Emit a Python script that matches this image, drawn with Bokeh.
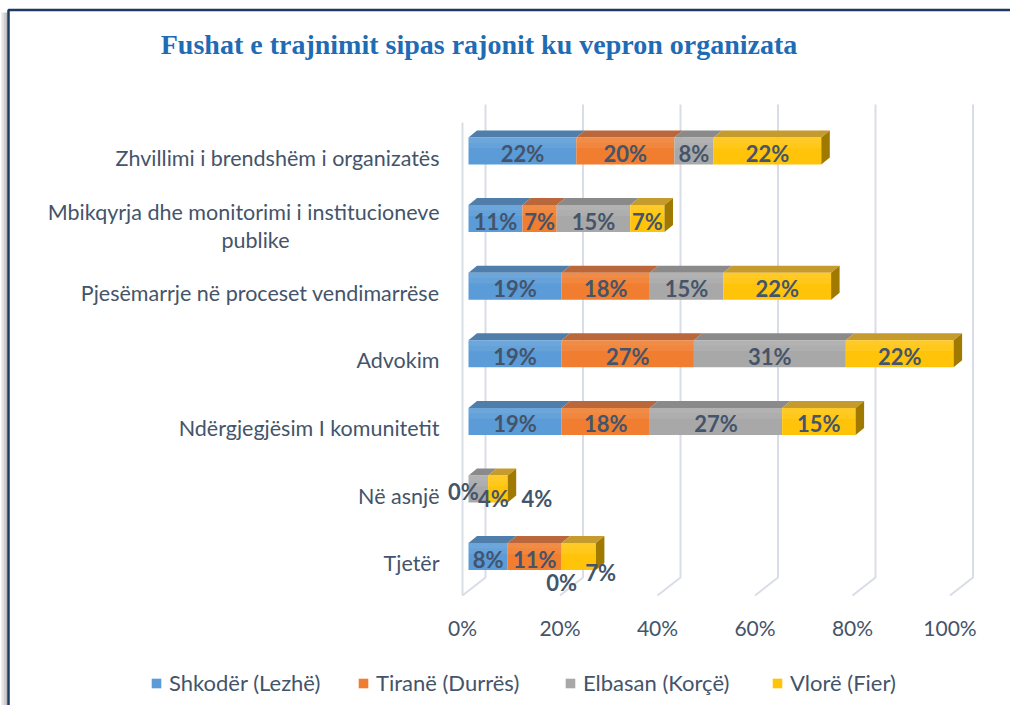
from bokeh.plotting import figure
from bokeh.models import Range1d, ColumnDataSource, Legend, LegendItem
from bokeh.core.properties import value
from bokeh.embed import file_html
from bokeh.resources import INLINE

# ---------------- data ----------------
title_text = "Fushat e trajnimit sipas rajonit ku vepron organizata"
categories = [
    "Zhvillimi i brendshëm i organizatës",
    "Mbikqyrja dhe monitorimi i institucioneve\npublike",
    "Pjesëmarrje në proceset vendimarrëse",
    "Advokim",
    "Ndërgjegjësim I komunitetit",
    "Në asnjë",
    "Tjetër",
]
series = ["Shkodër (Lezhë)", "Tiranë (Durrës)", "Elbasan (Korçë)", "Vlorë (Fier)"]
shkoder = [0.22, 0.11, 0.19, 0.19, 0.19, None, 0.08]
tirane = [0.20, 0.07, 0.18, 0.27, 0.18, 0.00, 0.11]
elbasan = [0.08, 0.15, 0.15, 0.31, 0.27, 0.04, 0.00]
vlore = [0.22, 0.07, 0.22, 0.22, 0.15, 0.04, 0.07]
x_ticks = [0.0, 0.2, 0.4, 0.6, 0.8, 1.0]

values = [shkoder, tirane, elbasan, vlore]

# ---------------- style ----------------
front_colors = ["#5A9BD8", "#F07D30", "#A8A8A8", "#FFC40A"]
top_colors = ["#4F7EAA", "#B9673B", "#8A8A8A", "#C69B2E"]
side_colors = ["#3F6E9C", "#A2531F", "#7A7A7A", "#A07A00"]
text_color = "#44546A"
grid_color = "#D9DDE7"
FONT = "Lato"

W, H = 1010, 705
X0, SX = 468.0, 490.0        # px of 0% on bar fronts, px per 100%
Y0, ROW = 150.5, 67.6        # px of first bar centre, row pitch
BAR_H = 27.0
DX, DY = 8.5, 7.0            # 3-D depth of the bars
WALL_X0, WALL_SX = 485.0, 487.5
WALL_TOP, WALL_BOT, FLOOR_DX, FLOOR_DY = 104.0, 577.0, -23.0, 18.0


def X(px):
    return (px - X0) / SX


def Y(py):
    return (py - Y0) / ROW


p = figure(width=W, height=H,
           x_range=Range1d(X(0), X(W)), y_range=Range1d(Y(H), Y(0)),
           x_axis_location=None, y_axis_location=None,
           min_border=0, toolbar_location=None, output_backend="svg")
p.grid.visible = False
p.outline_line_color = None
p.background_fill_color = "white"
p.border_fill_color = "white"

# chart border (left shadow + frame)
p.multi_line(xs=[[X(2), X(2)], [X(4), X(4)], [X(6), X(6)]],
             ys=[[Y(H + 5), Y(12)]] * 3,
             line_color=["#E4E4E4", "#CFCFCF", "#B8B8B8"], line_width=2)
p.multi_line(xs=[[X(8), X(8), X(W + 5)]],
             ys=[[Y(H + 5), Y(9.5), Y(9.5)]],
             line_color="#1F3864", line_width=2.5)

# walls / gridlines
gx, gy = [], []
for t in x_ticks:
    xb = WALL_X0 + WALL_SX * t
    gx.append([X(xb), X(xb), X(xb + FLOOR_DX)])
    gy.append([Y(WALL_TOP), Y(WALL_BOT), Y(WALL_BOT + FLOOR_DY)])
gx.append([X(WALL_X0 + FLOOR_DX), X(WALL_X0 + FLOOR_DX)])
gy.append([Y(WALL_TOP + FLOOR_DY), Y(WALL_BOT + FLOOR_DY)])
p.multi_line(xs=gx, ys=gy, line_color=grid_color, line_width=2)

# tick labels
p.text(x=[X(WALL_X0 + FLOOR_DX + WALL_SX * t) for t in x_ticks],
       y=[Y(627)] * len(x_ticks),
       text=[f"{int(round(t * 100))}%" for t in x_ticks],
       text_align="center", text_baseline="middle",
       text_font=value(FONT), text_font_size="21px", text_color=text_color)

# bars
hh = BAR_H / ROW / 2
ddx = DX / SX
ddy = DY / ROW
n = len(categories)
cum = [0.0] * n
front_renderers = []
last_seg = [None] * n
for s, vals in enumerate(values):
    lefts, rights, tops, bots = [], [], [], []
    txs, tys = [], []
    for i, v in enumerate(vals):
        w = v if v is not None else 0.0
        l, r = cum[i], cum[i] + w
        lefts.append(l); rights.append(r)
        tops.append(i - hh); bots.append(i + hh)
        txs.append([l, r, r + ddx, l + ddx])
        tys.append([i - hh, i - hh, i - hh - ddy, i - hh - ddy])
        if w > 0:
            last_seg[i] = (s, r)
        cum[i] = r
    p.patches(xs=txs, ys=tys, fill_color=top_colors[s], line_color=None)
    src = ColumnDataSource(dict(left=lefts, right=rights, top=tops, bottom=bots))
    rr = p.quad(left="left", right="right", top="top", bottom="bottom", source=src,
                fill_color=front_colors[s], line_color=None)
    # subtle lighter upper bands (gradient look)
    p.quad(left=lefts, right=rights, top=tops, bottom=[i - hh * 0.2 for i in range(n)],
           fill_color="white", fill_alpha=0.07, line_color=None)
    p.quad(left=lefts, right=rights, top=tops, bottom=[i - hh * 0.6 for i in range(n)],
           fill_color="white", fill_alpha=0.05, line_color=None)
    front_renderers.append(rr)

# right side faces
sx, sy, sc = [], [], []
for i, ls in enumerate(last_seg):
    if ls is None:
        continue
    s, r = ls
    sx.append([r, r + ddx, r + ddx, r])
    sy.append([i - hh, i - hh - ddy, i + hh - ddy, i + hh])
    sc.append(side_colors[s])
p.patches(xs=sx, ys=sy, fill_color=sc, line_color=None)

# data labels (pixel nudges for the labels that Excel displaced)
nudges = {(5, 1): (-5, 2), (5, 2): (15, 9), (5, 3): (39, 9),
          (6, 2): (0, 26), (6, 3): (22, 16)}
lx, ly, lt, ox, oy = [], [], [], [], []
cum = [0.0] * n
for s, vals in enumerate(values):
    for i, v in enumerate(vals):
        if v is None:
            continue
        c = cum[i] + v / 2
        cum[i] += v
        dxp, dyp = nudges.get((i, s), (0, 2.5))
        lx.append(c); ly.append(i); lt.append(f"{int(round(v * 100))}%")
        ox.append(dxp); oy.append(dyp)
p.text(x="x", y="y", text="t", x_offset="ox", y_offset="oy",
       source=ColumnDataSource(dict(x=lx, y=ly, t=lt, ox=ox, oy=oy)),
       text_align="center", text_baseline="middle",
       text_font=value(FONT), text_font_style="bold", text_font_size="22px",
       text_color=text_color)

# category labels
cx, cy, ct, coy, calign = [], [], [], [], []
for i, c in enumerate(categories):
    lines = c.split("\n")
    if len(lines) == 1:
        cx.append(X(439)); cy.append(i); ct.append(c); coy.append(6.5); calign.append("right")
    else:
        cx.append(X(439)); cy.append(i); ct.append(lines[0]); coy.append(-6.3); calign.append("right")
        cx.append(X(255)); cy.append(i); ct.append(lines[1]); coy.append(21.7); calign.append("center")
src_c = ColumnDataSource(dict(x=cx, y=cy, t=ct, oy=coy, a=calign))
p.text(x="x", y="y", text="t", y_offset="oy", text_align="a", source=src_c,
       text_baseline="middle", text_font=value(FONT), text_font_size="21.5px",
       text_color=text_color)

# title
p.text(x=[X(478.5)], y=[Y(44)], text=[title_text], text_align="center",
       text_baseline="middle", text_font=value("Liberation Serif"),
       text_font_style="bold", text_font_size="28px", text_color="#1F6CB5")

# legend
legend = Legend(items=[LegendItem(label=series[s], renderers=[front_renderers[s]])
                       for s in range(len(series))],
                orientation="horizontal", location=(150, 9),
                glyph_width=12, glyph_height=12, label_standoff=7, spacing=18,
                label_width=170, padding=0, margin=0, border_line_color=None,
                background_fill_alpha=0, label_text_font=FONT,
                label_text_font_size="22px", label_text_color=text_color)
p.add_layout(legend)

open("out.html", "w").write(file_html(p, INLINE))
